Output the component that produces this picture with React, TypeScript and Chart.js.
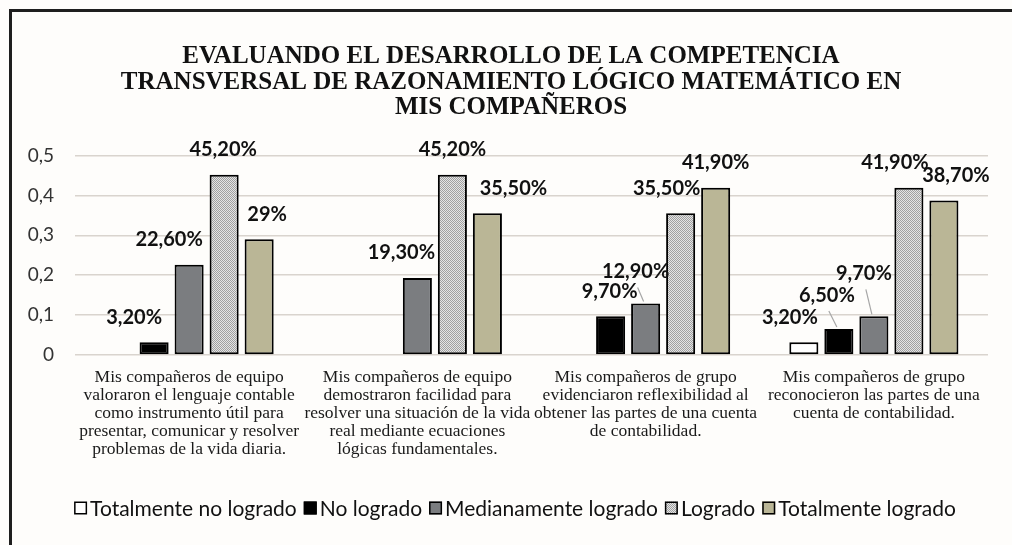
import React, { useEffect, useRef } from 'react';
import { Chart, registerables } from 'chart.js';

Chart.register(...registerables);

// ---------- data ----------
const titleLines = [
  'EVALUANDO EL DESARROLLO DE LA COMPETENCIA',
  'TRANSVERSAL DE RAZONAMIENTO LÓGICO MATEMÁTICO EN',
  'MIS COMPAÑEROS',
];

const categories = [
  ['Mis compañeros de equipo', 'valoraron el lenguaje contable', 'como instrumento útil para', 'presentar, comunicar y resolver', 'problemas de la vida diaria.'],
  ['Mis compañeros de equipo', 'demostraron facilidad para', 'resolver una situación de la vida', 'real mediante ecuaciones', 'lógicas fundamentales.'],
  ['Mis compañeros de grupo', 'evidenciaron reflexibilidad al', 'obtener las partes de una cuenta', 'de contabilidad.'],
  ['Mis compañeros de grupo', 'reconocieron las partes de una', 'cuenta de contabilidad.'],
];

const seriesNames = ['Totalmente no logrado', 'No logrado', 'Medianamente logrado', 'Logrado', 'Totalmente logrado'];

const totalmenteNoLogrado = [0, 0, 0, 0.032];
const noLogrado = [0.032, 0, 0.097, 0.065];
const medianamenteLogrado = [0.226, 0.193, 0.129, 0.097];
const logrado = [0.452, 0.452, 0.355, 0.419];
const totalmenteLogrado = [0.29, 0.355, 0.419, 0.387];

const totalmenteNoLogradoLabels = ['', '', '', '3,20%'];
const noLogradoLabels = ['3,20%', '', '9,70%', '6,50%'];
const medianamenteLogradoLabels = ['22,60%', '19,30%', '12,90%', '9,70%'];
const logradoLabels = ['45,20%', '45,20%', '35,50%', '41,90%'];
const totalmenteLogradoLabels = ['29%', '35,50%', '41,90%', '38,70%'];

const yTickLabels = ['0', '0,1', '0,2', '0,3', '0,4', '0,5'];

// label nudges (px) relative to the default spot above each bar
const labelNudges = [
  [[0, 0], [0, 0], [0, 0], [-14, 0]],
  [[-20, 0], [0, 0], [-1, 0], [-12, -9]],
  [[-20, 0], [-16, 0], [-10, -7], [-10, -18]],
  [[-1, 0], [0, 0], [-14, 0], [-14, 0]],
  [[8, 0], [26, 0], [0, 0], [12, 0]],
];

const seriesValues = [totalmenteNoLogrado, noLogrado, medianamenteLogrado, logrado, totalmenteLogrado];
const seriesLabels = [totalmenteNoLogradoLabels, noLogradoLabels, medianamenteLogradoLabels, logradoLabels, totalmenteLogradoLabels];

function makePattern(): CanvasPattern | string {
  const p = document.createElement('canvas');
  p.width = 2;
  p.height = 2;
  const c = p.getContext('2d');
  if (!c) return '#bdbdbd';
  c.fillStyle = '#e4e4e4';
  c.fillRect(0, 0, 2, 2);
  c.fillStyle = '#a0a0a0';
  c.fillRect(0, 0, 1, 1);
  c.fillRect(1, 1, 1, 1);
  const pat = c.createPattern(p, 'repeat');
  return pat || '#bdbdbd';
}

export default function App() {
  const ref = useRef<HTMLCanvasElement | null>(null);

  useEffect(() => {
    const canvas = ref.current;
    if (!canvas) return;
    const pattern = makePattern();
    const fills: any[] = ['#ffffff', '#000000', '#7b7d80', pattern, '#bab696'];

    const framePlugin = {
      id: 'frame',
      beforeDraw(chart: any) {
        const ctx = chart.ctx;
        ctx.save();
        ctx.fillStyle = '#fefdfb';
        ctx.fillRect(0, 0, chart.width, chart.height);
        ctx.strokeStyle = '#1e1e1e';
        ctx.lineWidth = 3;
        ctx.beginPath();
        ctx.moveTo(10.5, chart.height);
        ctx.lineTo(10.5, 10.5);
        ctx.lineTo(chart.width, 10.5);
        ctx.stroke();
        // title
        ctx.fillStyle = '#111111';
        ctx.font = 'bold 25px "Liberation Serif"';
        ctx.textAlign = 'center';
        ctx.textBaseline = 'middle';
        titleLines.forEach((t, i) => {
          ctx.fillText(t, 511, 57 + i * 25.5);
        });
        ctx.restore();
      },
    };

    const labelPlugin = {
      id: 'barLabels',
      afterDatasetsDraw(chart: any) {
        const ctx = chart.ctx;
        ctx.save();
        ctx.font = 'bold 20px Lato';
        ctx.fillStyle = '#111111';
        ctx.textAlign = 'center';
        ctx.textBaseline = 'middle';
        seriesLabels.forEach((labels, i) => {
          const meta = chart.getDatasetMeta(i);
          meta.data.forEach((bar: any, j: number) => {
            const text = labels[j];
            if (!text) return;
            const [dx, dy] = labelNudges[i][j];
            const lx = bar.x + dx;
            const ly = bar.y - 25 + dy;
            if (dy < -5) {
              ctx.strokeStyle = '#a6a6a6';
              ctx.lineWidth = 1.2;
              ctx.beginPath();
              ctx.moveTo(lx + 2, ly + 16);
              ctx.lineTo(bar.x - 2, bar.y - 2);
              ctx.stroke();
            }
            ctx.fillText(text, lx, ly);
          });
        });
        ctx.restore();
      },
    };

    const legendPlugin = {
      id: 'customLegend',
      afterDraw(chart: any) {
        const ctx = chart.ctx;
        ctx.save();
        ctx.font = '21px Lato';
        ctx.textBaseline = 'middle';
        ctx.textAlign = 'left';
        const box = 13;
        const gapBox = 3;
        const gapItem = 7;
        const widths = seriesNames.map((n) => ctx.measureText(n).width);
        const total = widths.reduce((a, w) => a + box + gapBox + w, 0) + gapItem * (seriesNames.length - 1);
        let x = 515 - total / 2;
        const cy = 508;
        seriesNames.forEach((n, i) => {
          ctx.fillStyle = fills[i];
          ctx.fillRect(x, cy - box / 2, box, box);
          ctx.strokeStyle = '#000';
          ctx.lineWidth = 1.5;
          ctx.strokeRect(x + 0.75, cy - box / 2 + 0.75, box - 1.5, box - 1.5);
          ctx.fillStyle = '#111111';
          ctx.fillText(n, x + box + gapBox, cy + 1);
          x += box + gapBox + widths[i] + gapItem;
        });
        ctx.restore();
      },
    };

    const chart = new Chart(canvas, {
      type: 'bar',
      data: {
        labels: categories,
        datasets: seriesNames.map((name, i) => ({
          label: name,
          data: seriesValues[i],
          backgroundColor: fills[i],
          borderColor: '#000000',
          borderWidth: 2,
          borderSkipped: false,
          categoryPercentage: 0.767,
          barPercentage: 0.83,
        })),
      },
      options: {
        responsive: false,
        animation: false,
        layout: { padding: { left: 10, right: 24, top: 155.5, bottom: 75 } },
        plugins: {
          legend: { display: false },
          tooltip: { enabled: false },
          title: { display: false },
        },
        scales: {
          x: {
            grid: { display: false, drawTicks: false },
            border: { display: false },
            ticks: {
              color: '#1a1a1a',
              font: { family: 'Liberation Serif', size: 17.5, lineHeight: 1.03 },
              padding: 13,
              maxRotation: 0,
              autoSkip: false,
            },
            afterFit: (s: any) => {
              s.height = 115;
            },
          },
          y: {
            min: 0,
            max: 0.5,
            grid: { color: '#d9d4ce', lineWidth: 1.5, drawTicks: false },
            border: { display: false },
            ticks: {
              stepSize: 0.1,
              color: '#333333',
              font: { family: 'Lato', size: 19 },
              padding: 21,
              callback: (_v: any, i: number) => yTickLabels[i],
            },
            afterFit: (s: any) => {
              s.width = 65;
            },
          },
        },
      },
      plugins: [framePlugin, labelPlugin, legendPlugin],
    });

    return () => chart.destroy();
  }, []);

  return (
    <div style={{ position: 'absolute', left: 0, top: 0, width: 1012, height: 545 }}>
      <canvas ref={ref} width={1012} height={545} style={{ display: 'block' }} />
    </div>
  );
}
